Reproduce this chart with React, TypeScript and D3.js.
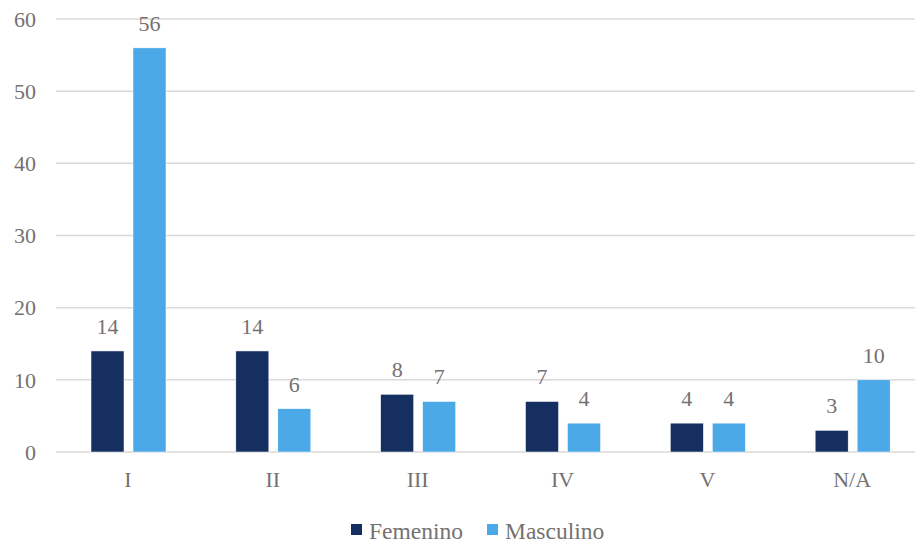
import React from "react";
import * as d3 from "d3";

const categories = ["I", "II", "III", "IV", "V", "N/A"];
const series = ["Femenino", "Masculino"];
const femenino = [14, 14, 8, 7, 4, 3];
const masculino = [56, 6, 7, 4, 4, 10];
const yTicks = [0, 10, 20, 30, 40, 50, 60];

const colors = ["#153060", "#4BA9E8"];
const textColor = "#757171";
const font = "'Liberation Serif', 'Times New Roman', Times, serif";

export default function App() {
  const width = 915;
  const height = 548;

  const x0 = d3.scaleBand().domain(categories).range([55.6, 924.6]);
  const x1 = d3
    .scaleBand()
    .domain(series)
    .range([35.4, 110.4])
    .paddingInner(0.214);
  const y = d3.scaleLinear().domain([0, 60]).range([452, 19]);

  const values = [femenino, masculino];
  const txt = { fontFamily: font, fontSize: 22, fill: textColor };
  const legendTxt = { ...txt, fontSize: 23.5 };

  return (
    <svg
      width={width}
      height={height}
      style={{ position: "absolute", left: 0, top: 0, background: "#fff" }}
    >
      {yTicks.map(t => (
        <g key={t}>
          <line x1={56} x2={width} y1={y(t)} y2={y(t)} stroke="#d9d9d9" strokeWidth={1.5} />
          <text x={36} y={y(t)} dy="0.35em" textAnchor="end" style={txt}>
            {t}
          </text>
        </g>
      ))}
      {categories.map((c, i) => (
        <g key={c} transform={`translate(${x0(c)},0)`}>
          {series.map((s, j) => {
            const v = values[j][i];
            const bx = x1(s) as number;
            return (
              <g key={s}>
                <rect
                  x={bx}
                  y={y(v)}
                  width={x1.bandwidth()}
                  height={y(0) - y(v)}
                  fill={colors[j]}
                  stroke="#fff"
                  strokeWidth={0.5}
                />
                <text
                  x={bx + x1.bandwidth() / 2}
                  y={y(v) - 17}
                  textAnchor="middle"
                  style={txt}
                >
                  {v}
                </text>
              </g>
            );
          })}
          <text x={x0.bandwidth() / 2} y={487} textAnchor="middle" style={txt}>
            {c}
          </text>
        </g>
      ))}
      <g>
        <rect x={351} y={524} width={11} height={11} fill={colors[0]} />
        <text x={369} y={539} style={legendTxt}>
          Femenino
        </text>
        <rect x={487} y={524} width={11} height={11} fill={colors[1]} />
        <text x={505} y={539} style={legendTxt}>
          Masculino
        </text>
      </g>
    </svg>
  );
}
